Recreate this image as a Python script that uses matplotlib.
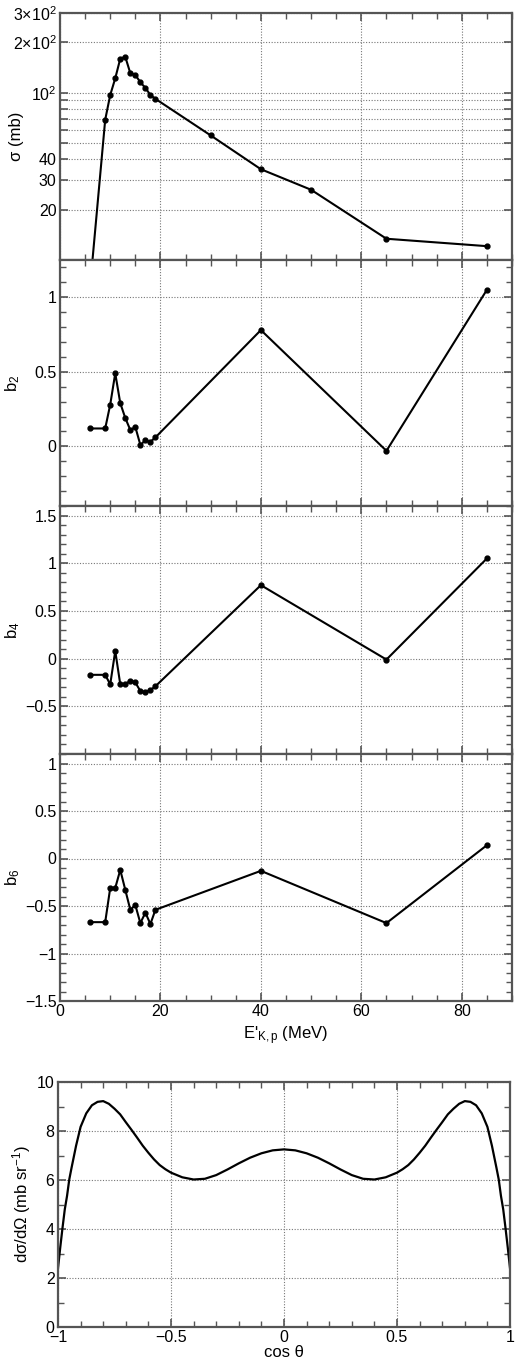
import matplotlib
matplotlib.use("Agg")
import matplotlib.pyplot as plt
from matplotlib.ticker import MultipleLocator, FixedLocator, NullLocator, FuncFormatter

plt.rcParams['font.family'] = ['Liberation Sans', 'DejaVu Sans']
plt.rcParams['mathtext.fontset'] = 'custom'
plt.rcParams['mathtext.rm'] = 'Liberation Sans'
plt.rcParams['mathtext.it'] = 'Liberation Sans:italic'
plt.rcParams['mathtext.default'] = 'regular'

# ---------------- data ----------------
E_sigma = [6, 9, 10, 11, 12, 13, 14, 15, 16, 17, 18, 19, 30, 40, 50, 65, 85]
sigma = [7, 69, 97, 122, 160, 164, 131, 128, 115.5, 107, 97, 92, 55.6, 34.9, 26.3, 13.4, 12.1]

E_b = [6, 9, 10, 11, 12, 13, 14, 15, 16, 17, 18, 19, 40, 65, 85]
b2 = [0.12, 0.12, 0.28, 0.49, 0.29, 0.19, 0.11, 0.13, 0.01, 0.04, 0.03, 0.06, 0.78, -0.03, 1.05]
b4 = [-0.17, -0.17, -0.27, 0.08, -0.27, -0.27, -0.23, -0.25, -0.34, -0.35, -0.33, -0.29, 0.77, -0.01, 1.05]
b6 = [-0.67, -0.67, -0.31, -0.31, -0.12, -0.33, -0.54, -0.49, -0.68, -0.57, -0.69, -0.54, -0.13, -0.68, 0.14]

cos_theta = [-1.00, -0.99, -0.98, -0.97, -0.96, -0.95, -0.94, -0.92, -0.90, -0.875, -0.85, -0.825,
             -0.80, -0.775, -0.75, -0.725, -0.70, -0.675, -0.65, -0.625, -0.60, -0.575, -0.55,
             -0.525, -0.50, -0.45, -0.40, -0.35, -0.30, -0.25, -0.20, -0.15, -0.10, -0.05, 0.00,
             0.05, 0.10, 0.15, 0.20, 0.25, 0.30, 0.35, 0.40, 0.45, 0.50, 0.525, 0.55, 0.575,
             0.60, 0.625, 0.65, 0.675, 0.70, 0.725, 0.75, 0.775, 0.80, 0.825, 0.85, 0.875,
             0.90, 0.92, 0.94, 0.95, 0.96, 0.97, 0.98, 0.99, 1.00]
dsig = [2.40, 3.25, 4.05, 4.80, 5.35, 6.03, 6.50, 7.40, 8.17, 8.72, 9.05, 9.19,
        9.22, 9.11, 8.91, 8.68, 8.36, 8.05, 7.73, 7.40, 7.11, 6.84, 6.61,
        6.44, 6.30, 6.11, 6.02, 6.05, 6.20, 6.43, 6.68, 6.91, 7.09, 7.21, 7.25,
        7.21, 7.09, 6.91, 6.68, 6.43, 6.20, 6.05, 6.02, 6.11, 6.30, 6.44, 6.61, 6.84,
        7.11, 7.40, 7.73, 8.05, 8.36, 8.68, 8.91, 9.11, 9.22, 9.19, 9.05, 8.72,
        8.17, 7.40, 6.50, 6.03, 5.35, 4.80, 4.05, 3.25, 2.40]

sigma_ticks = [20, 30, 40, 50, 60, 70, 80, 90, 100, 200, 300]
sigma_ticklabels = ['20', '30', '40', '', '', '', '', '', '$10^2$', r'$2{\times}10^2$', r'$3{\times}10^2$']

# ---------------- layout ----------------
W, H = 520, 1359
fig = plt.figure(figsize=(W / 100, H / 100), dpi=100)

def rect(l, t, r, b):
    return [l / W, 1 - b / H, (r - l) / W, (b - t) / H]

SPINE = '#555555'
GRID = dict(color='#777777', linestyle=(0, (1, 1.5)), linewidth=0.8)
TICKFS = 11.5
LABFS = 12

def minus_fmt(v, p):
    return ('%g' % v).replace('-', '\u2212')

def style(ax):
    for s in ax.spines.values():
        s.set_color(SPINE)
        s.set_linewidth(1.6)
    ax.tick_params(which='both', direction='in', top=True, right=True,
                   color=SPINE, labelsize=TICKFS, pad=2.5)
    ax.tick_params(which='major', length=6, width=1.2)
    ax.tick_params(which='minor', length=4, width=1.0)
    ax.grid(True, which='major', **GRID)
    ax.set_axisbelow(True)

line_kw = dict(color='black', linewidth=1.5, marker='o', markersize=3.5)

# top panel: sigma
ax0 = fig.add_axes(rect(60, 13, 512, 260))
ax0.plot(E_sigma, sigma, **line_kw)
ax0.set_yscale('log')
ax0.set_ylim(10, 300)
ax0.yaxis.set_major_locator(FixedLocator(sigma_ticks))
ax0.yaxis.set_minor_locator(NullLocator())
ax0.set_yticklabels(sigma_ticklabels)
ax0.set_ylabel('σ (mb)', fontsize=LABFS)
ax0.yaxis.set_label_coords(-0.080, 0.5)

ax2 = fig.add_axes(rect(60, 260, 512, 506), sharex=ax0)
ax2.plot(E_b, b2, **line_kw)
ax2.set_ylim(-0.4, 1.25)
ax2.yaxis.set_major_locator(FixedLocator([0, 0.5, 1]))
ax2.yaxis.set_minor_locator(MultipleLocator(0.1))
ax2.set_ylabel('$b_2$', fontsize=LABFS)
ax2.yaxis.set_label_coords(-0.084, 0.5)

ax4 = fig.add_axes(rect(60, 506, 512, 754), sharex=ax0)
ax4.plot(E_b, b4, **line_kw)
ax4.set_ylim(-1.0, 1.6)
ax4.yaxis.set_major_locator(FixedLocator([-0.5, 0, 0.5, 1, 1.5]))
ax4.yaxis.set_minor_locator(MultipleLocator(0.1))
ax4.set_ylabel('$b_4$', fontsize=LABFS)
ax4.yaxis.set_label_coords(-0.084, 0.5)

ax6 = fig.add_axes(rect(60, 754, 512, 1001), sharex=ax0)
ax6.plot(E_b, b6, **line_kw)
ax6.set_ylim(-1.5, 1.1)
ax6.yaxis.set_major_locator(FixedLocator([-1.5, -1, -0.5, 0, 0.5, 1]))
ax6.yaxis.set_minor_locator(MultipleLocator(0.1))
ax6.set_ylabel('$b_6$', fontsize=LABFS)
ax6.yaxis.set_label_coords(-0.084, 0.5)
ax6.set_xlabel("E'$_{K,p}$ (MeV)", fontsize=LABFS)
ax6.xaxis.set_label_coords(0.5, -0.095)

ax0.set_xlim(0, 90)
ax0.xaxis.set_major_locator(FixedLocator([0, 20, 40, 60, 80]))
ax0.xaxis.set_minor_locator(MultipleLocator(5))

for ax in (ax0, ax2, ax4, ax6):
    style(ax)
for ax in (ax0, ax2, ax4):
    ax.tick_params(labelbottom=False)

for ax in (ax2, ax4, ax6):
    ax.yaxis.set_major_formatter(FuncFormatter(minus_fmt))

# bottom panel
axb = fig.add_axes(rect(58, 1082, 510, 1327))
axb.plot(cos_theta, dsig, color='black', linewidth=1.6)
axb.set_xlim(-1, 1)
axb.set_ylim(0, 10)
axb.xaxis.set_major_locator(FixedLocator([-1, -0.5, 0, 0.5, 1]))
axb.xaxis.set_minor_locator(MultipleLocator(0.1))
axb.yaxis.set_major_locator(MultipleLocator(2))
axb.yaxis.set_minor_locator(MultipleLocator(1))
style(axb)
axb.xaxis.set_major_formatter(FuncFormatter(minus_fmt))
axb.set_xlabel('cos θ', fontsize=LABFS)
axb.xaxis.set_label_coords(0.5, -0.072)
axb.set_ylabel('dσ/dΩ (mb sr$^{-1}$)', fontsize=LABFS)
axb.yaxis.set_label_coords(-0.055, 0.5)

fig.savefig('out.png', dpi=100)
